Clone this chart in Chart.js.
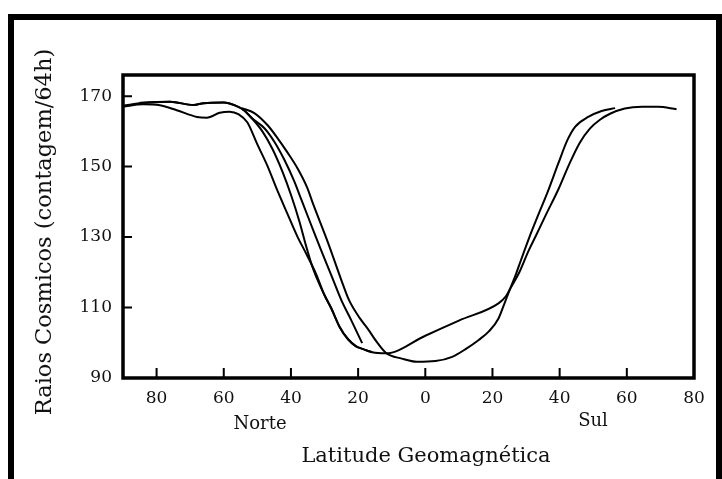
<!DOCTYPE html>
<html>
<head>
<meta charset="utf-8">
<script src="https://cdn.jsdelivr.net/npm/chart.js@4"></script>
<style>
  html, body { margin: 0; padding: 0; background: #fff; }
  canvas { display: block; }
</style>
</head>
<body>
<canvas id="grafico" width="722" height="479"></canvas>
<script>
'use strict'

// latitude: negativo = Norte (esquerda), positivo = Sul (direita)
const xTicks = [-80, -60, -40, -20, 0, 20, 40, 60, 80]
const yTicks = [90, 110, 130, 150, 170]

// curva superior (termina perto de 19 N)
const curvaAx = [-90, -84, -76, -69, -66, -60, -56.5, -54, -51.7, -47.9, -44.9, -42, -39, -36.9, -34, -31, -28, -25, -22.1, -18.8]
const curvaAy = [167.3, 168.1, 168.4, 167.5, 168.0, 168.2, 167.3, 166.0, 163.8, 160.9, 157.0, 152.0, 145.8, 140.6, 133.5, 126.2, 119.2, 112.1, 106.5, 99.9]

// curva com vale em 66 N, descida íngreme, trecho reto até o Sul
const curvaBx = [-90, -84, -79, -74, -68, -65, -61.2, -58.3, -55.5, -53, -50, -47, -44.3, -41, -38, -35.4, -32.5, -30, -28, -25.5, -23, -20.6, -18.5, -15.8, -11.8, 0, 10, 21.8, 24, 25.3, 28, 30.7, 33, 36, 39.6, 43, 46, 49, 52, 55, 59.4, 64.5, 69.3, 74.8]
const curvaBy = [167.0, 167.7, 167.4, 166.0, 164.1, 163.9, 165.3, 165.6, 164.8, 162.6, 156.3, 150.2, 143.8, 136.5, 130.0, 125.2, 119.5, 113.5, 109.8, 104.5, 101.0, 99.0, 98.2, 97.3, 97.0, 102.0, 106.3, 111.2, 113.2, 115.4, 120.0, 126.0, 130.5, 136.5, 143.5, 151.0, 156.8, 160.8, 163.3, 165.0, 166.5, 167.0, 167.0, 166.3]

// curva que começa em 55 N e passa pelo mínimo no equador
const curvaCx = [-54.7, -50.9, -47, -44, -41.1, -38.1, -35.1, -33.6, -29, -25, -22.7, -19.5, -17, -14.5, -11.7, -7, -2.5, 3, 8, 12, 15.9, 19, 21.8, 23.5, 25.3, 27, 28.5, 31, 33.5, 36.5, 39.6, 42.3, 44.6, 48.5, 52.5, 56.5]
const curvaCy = [166.6, 165.2, 161.8, 158.1, 154.1, 149.6, 143.9, 139.9, 128.5, 117.8, 112.1, 107.0, 103.8, 100.3, 97.1, 95.5, 94.6, 94.8, 96.0, 98.2, 100.8, 103.3, 106.9, 111.0, 115.4, 119.5, 123.5, 130.0, 136.0, 143.0, 150.9, 157.5, 161.3, 164.1, 165.8, 166.6]

// curva que acompanha a superior e depois se junta à íngreme
const curvaDx = [-85, -76, -69, -66, -60, -56.5, -54, -51.7, -48.5, -45.5, -42.5, -40, -37.5, -35.5, -33.6, -32.5, -30, -28, -25.5, -23, -20.6, -18.5, -15.8]
const curvaDy = [168.1, 168.4, 167.5, 168.0, 168.2, 167.3, 166.0, 163.8, 160.0, 155.0, 148.5, 142.0, 134.5, 127.5, 121.5, 118.8, 113.5, 109.8, 104.5, 101.0, 99.0, 98.2, 97.3]

const fonte = 'DejaVu Serif'

let pontos = (xs, ys) => xs.map((x, i) => ({ x: x, y: ys[i] }))

let serie = (xs, ys) => ({
    data: pontos(xs, ys),
    borderColor: '#000',
    borderWidth: 2,
    pointRadius: 0,
    fill: false,
    cubicInterpolationMode: 'monotone'
})

const moldura = {
    id: 'moldura',
    beforeDraw: (chart) => {
        const ctx = chart.ctx
        ctx.save()
        ctx.fillStyle = '#fff'
        ctx.fillRect(0, 0, chart.width, chart.height)
        ctx.restore()
    },
    afterDraw: (chart) => {
        const ctx = chart.ctx
        const a = chart.chartArea
        const sx = chart.scales.x
        const sy = chart.scales.y
        ctx.save()

        // moldura do gráfico
        ctx.strokeStyle = '#000'
        ctx.lineWidth = 3.5
        ctx.strokeRect(a.left, a.top, a.right - a.left, a.bottom - a.top)

        // marcas para dentro
        ctx.lineWidth = 2
        ctx.beginPath()
        xTicks.forEach(v => {
            const px = sx.getPixelForValue(v)
            ctx.moveTo(px, a.bottom)
            ctx.lineTo(px, a.bottom - 10)
        })
        yTicks.forEach(v => {
            const py = sy.getPixelForValue(v)
            ctx.moveTo(a.left, py)
            ctx.lineTo(a.left + 9, py)
        })
        ctx.stroke()

        // textos
        ctx.fillStyle = '#111'
        ctx.textAlign = 'center'
        ctx.textBaseline = 'middle'
        ctx.font = '18px "' + fonte + '"'
        ctx.fillText('Norte', 260, 424)
        ctx.fillText('Sul', 593, 421)
        ctx.font = '21px "' + fonte + '"'
        ctx.fillText('Latitude Geomagnética', 426, 457)

        ctx.font = '22.5px "' + fonte + '"'
        ctx.translate(45, 232)
        ctx.rotate(-Math.PI / 2)
        ctx.fillText('Raios Cosmicos (contagem/64h)', 0, 0)
        ctx.setTransform(1, 0, 0, 1, 0, 0)

        // borda externa da figura
        ctx.fillStyle = '#000'
        ctx.fillRect(8, 14, 6, chart.height - 14)
        ctx.fillRect(8, 14, chart.width - 8, 6)
        ctx.fillRect(chart.width - 6, 14, 6, chart.height - 14)
        ctx.restore()
    }
}

const config = {
    type: 'line',
    data: {
        datasets: [
            serie(curvaAx, curvaAy),
            serie(curvaBx, curvaBy),
            serie(curvaCx, curvaCy),
            serie(curvaDx, curvaDy)
        ]
    },
    options: {
        responsive: false,
        animation: false,
        layout: {
            padding: { top: 75, right: 28, left: 0, bottom: 0 }
        },
        plugins: {
            legend: { display: false },
            title: { display: false },
            tooltip: { enabled: false }
        },
        scales: {
            x: {
                type: 'linear',
                min: -90,
                max: 80,
                afterBuildTicks: (scale) => {
                    scale.ticks = xTicks.map(v => ({ value: v }))
                },
                afterFit: (scale) => {
                    scale.height = 101
                },
                grid: { display: false, drawTicks: false },
                border: { display: false },
                ticks: {
                    autoSkip: false,
                    maxRotation: 0,
                    padding: 10,
                    color: '#111',
                    font: { family: fonte, size: 17 },
                    callback: (value) => Math.abs(value)
                }
            },
            y: {
                type: 'linear',
                min: 90,
                max: 176,
                afterBuildTicks: (scale) => {
                    scale.ticks = yTicks.map(v => ({ value: v }))
                },
                afterFit: (scale) => {
                    scale.width = 123
                },
                grid: { display: false, drawTicks: false },
                border: { display: false },
                ticks: {
                    padding: 11,
                    color: '#111',
                    font: { family: fonte, size: 17 }
                }
            }
        }
    },
    plugins: [moldura]
}

let grafico = new Chart(document.getElementById('grafico').getContext('2d'), config)
</script>
</body>
</html>
